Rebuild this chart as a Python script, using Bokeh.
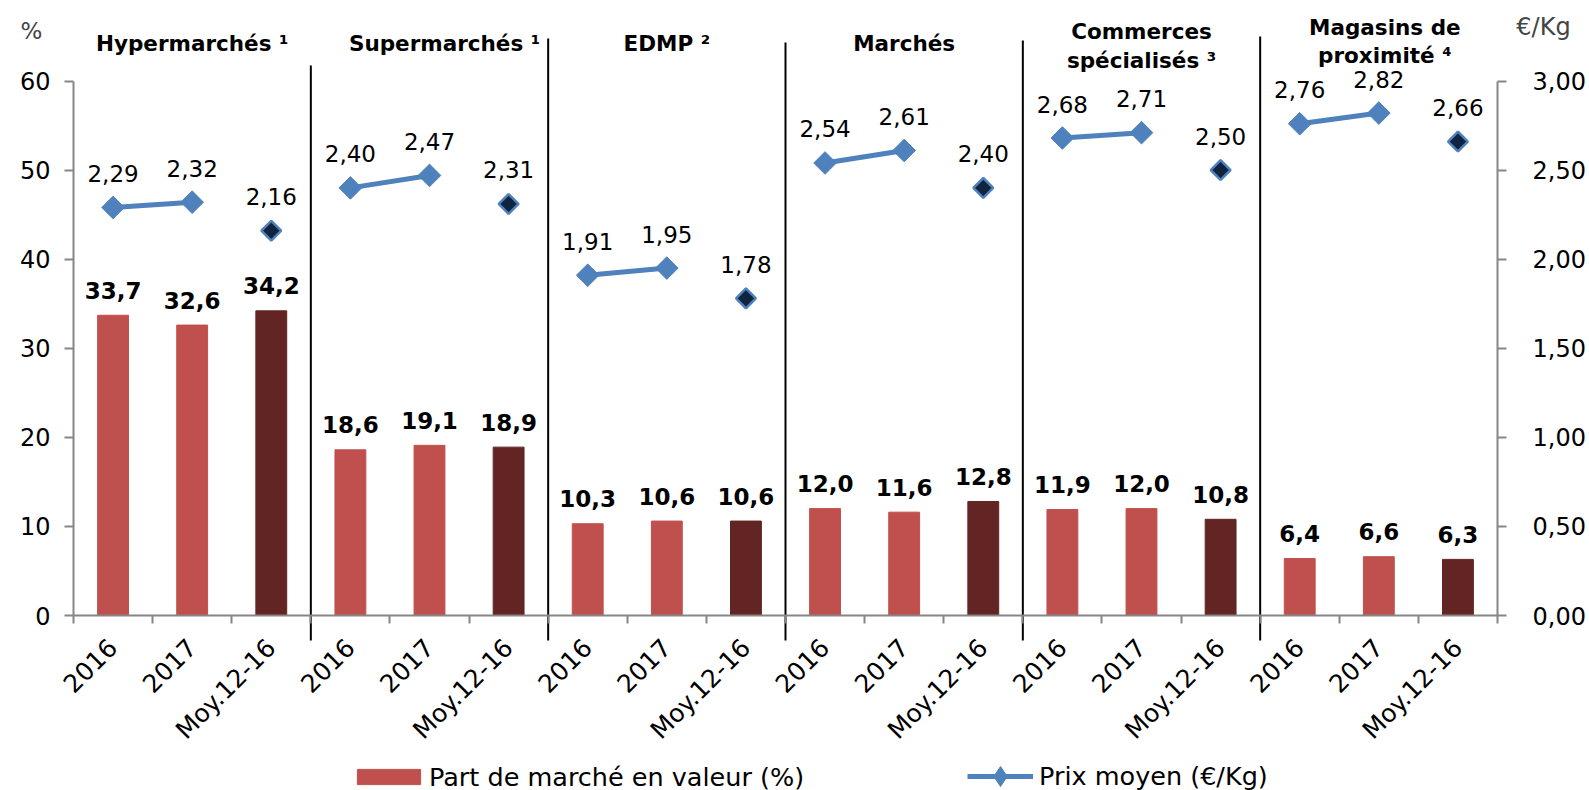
import math
from bokeh.plotting import figure
from bokeh.models import (Range1d, LinearAxis, FixedTicker, CustomJSTickFormatter,
                          ColumnDataSource, Legend, LegendItem, Label)
from bokeh.core.properties import value
from bokeh.embed import file_html
from bokeh.resources import INLINE

# ---------------- data ----------------
groups = ["Hypermarchés ¹", "Supermarchés ¹", "EDMP ²", "Marchés",
          "Commerces\nspécialisés ³", "Magasins de\nproximité ⁴"]
periods = ["2016", "2017", "Moy.12-16"]
part_marche = [33.7, 32.6, 34.2,
               18.6, 19.1, 18.9,
               10.3, 10.6, 10.6,
               12.0, 11.6, 12.8,
               11.9, 12.0, 10.8,
               6.4, 6.6, 6.3]
prix_moyen = [2.29, 2.32, 2.16,
              2.40, 2.47, 2.31,
              1.91, 1.95, 1.78,
              2.54, 2.61, 2.40,
              2.68, 2.71, 2.50,
              2.76, 2.82, 2.66]
legend_bar = "Part de marché en valeur (%)"
legend_line = "Prix moyen (€/Kg)"
unit_left = "%"
unit_right = "€/Kg"

# ---------------- layout (page pixels) ----------------
W, H = 1589, 790
PAGE = 0
L, R = 73, 1497          # axes positions (page px)
Y0, Y60 = 615, 80.5      # pixel of 0 and 60 on left axis
NCAT = len(groups) * len(periods)
XPC = (R - L) / NCAT
YPU = (Y0 - Y60) / 60.0

def xd(px):
    return (px - L) / XPC

def yd(px):
    return (Y0 - px) / YPU

FONT = value("DejaVu Sans")
RED = "#C0504D"
DARK = "#632523"
BLUE = "#4F81BD"
NAVY = "#0F243E"
GREY = "#868686"

# the frame covers the whole canvas; axes are pinned with fixed_location
p = figure(width=W, height=H, output_backend="svg", toolbar_location=None,
           x_range=Range1d(xd(PAGE), xd(PAGE + W)),
           y_range=Range1d(yd(PAGE + H), yd(PAGE)),
           min_border=0, min_border_left=0, min_border_right=0,
           min_border_top=0, min_border_bottom=0)
p.title = None
p.outline_line_color = None
p.xgrid.grid_line_color = None
p.ygrid.grid_line_color = None
p.background_fill_color = "white"
p.border_fill_color = "white"
p.extra_y_ranges = {"price": Range1d(yd(PAGE + H) / 20.0, yd(PAGE) / 20.0)}

# ---------------- derived per-category table ----------------
xs, cols, per_lbl = [], [], []
for gi, g in enumerate(groups):
    for pi_, per in enumerate(periods):
        xs.append(gi * len(periods) + pi_ + 0.5)
        cols.append(DARK if pi_ == 2 else RED)
        per_lbl.append(per)

src = ColumnDataSource(dict(
    x=xs, part=part_marche, prix=prix_moyen, color=cols,
    part_txt=[f"{v:.1f}".replace(".", ",") for v in part_marche],
    prix_txt=[f"{v:.2f}".replace(".", ",") for v in prix_moyen],
))

# group separators (drawn first, behind)
sep_x = [gi * len(periods) for gi in range(1, len(groups))]
sep_top_px = [65, 38, 42, 40, 36]
p.segment(x0=sep_x, x1=sep_x, y0=[yd(640)] * len(sep_x), y1=[yd(t) for t in sep_top_px],
          line_color="black", line_width=2)

# bars
bars = p.vbar(x="x", top="part", bottom=0, width=0.39, source=src,
              fill_color="color", line_color="color")

# bar value labels
p.text(x="x", y="part", text="part_txt", source=src, y_offset=-25,
       text_align="center", text_baseline="middle", text_font=FONT,
       text_font_size="23px", text_font_style="bold", text_color="black")

# price lines (2016 -> 2017 inside each group)
line_xs, line_ys = [], []
for gi in range(len(groups)):
    i0 = gi * len(periods)
    line_xs.append([xs[i0], xs[i0 + 1]])
    line_ys.append([prix_moyen[i0], prix_moyen[i0 + 1]])
lines = p.multi_line(xs=line_xs, ys=line_ys, y_range_name="price",
                     line_color=BLUE, line_width=5)

yr_idx = [i for i in range(NCAT) if i % 3 != 2]
moy_idx = [i for i in range(NCAT) if i % 3 == 2]
src_yr = ColumnDataSource(dict(x=[xs[i] for i in yr_idx], y=[prix_moyen[i] for i in yr_idx]))
src_moy = ColumnDataSource(dict(x=[xs[i] for i in moy_idx], y=[prix_moyen[i] for i in moy_idx]))
# upright diamonds (used by the legend), covered by the rotated squares below
legend_mark = p.scatter(x="x", y="y", source=src_yr, y_range_name="price", marker="diamond",
                        size=20, fill_color=BLUE, line_color=BLUE, line_width=1)
p.scatter(x="x", y="y", source=src_yr, y_range_name="price", marker="square",
          angle=math.pi / 4, size=16, fill_color=BLUE, line_color=BLUE, line_width=1)
p.scatter(x="x", y="y", source=src_moy, y_range_name="price", marker="square",
          angle=math.pi / 4, size=14, fill_color=NAVY, line_color=BLUE, line_width=2.5)

# price labels
p.text(x="x", y="prix", text="prix_txt", source=src, y_range_name="price", y_offset=-34,
       text_align="center", text_baseline="middle", text_font=FONT,
       text_font_size="23px", text_color="black")

# group headers
hdr_dx = [0, 15, 0, 0, 0, 6]
hdr_y = [[43], [43], [43], [43], [31, 60], [27, 55]]
hx, hy, ht = [], [], []
for gi, g in enumerate(groups):
    for li, line in enumerate(g.split("\n")):
        hx.append(gi * len(periods) + 1.5 + hdr_dx[gi] / XPC)
        hy.append(yd(hdr_y[gi][li]))
        ht.append(line)
p.text(x=hx, y=hy, text=ht, text_align="center", text_baseline="middle",
       text_font=FONT, text_font_size="21.5px", text_font_style="bold", text_color="black")

# ---------------- axes ----------------
yax = p.yaxis[0]
yax.ticker = FixedTicker(ticks=[0, 10, 20, 30, 40, 50, 60])
yax.bounds = (0, 60)
yax.fixed_location = 0
ax_right = LinearAxis(y_range_name="price",
                      ticker=FixedTicker(ticks=[0, 0.5, 1.0, 1.5, 2.0, 2.5, 3.0]),
                      formatter=CustomJSTickFormatter(code="return tick.toFixed(2).replace('.', ',')"))
ax_right.bounds = (0, 3)
ax_right.fixed_location = NCAT
p.add_layout(ax_right, "right")

for ax in (yax, ax_right):
    ax.axis_line_color = GREY
    ax.axis_line_width = 2
    ax.major_tick_line_color = GREY
    ax.major_tick_line_width = 2
    ax.major_tick_out = 9
    ax.major_tick_in = 0
    ax.minor_tick_line_color = None
    ax.major_label_text_font = "DejaVu Sans"
    ax.major_label_text_font_size = "24px"
    ax.major_label_text_color = "black"
yax.major_label_standoff = 14
ax_right.major_label_standoff = 26

xax = p.xaxis[0]
xax.ticker = FixedTicker(ticks=xs, minor_ticks=list(range(NCAT + 1)))
xax.formatter = CustomJSTickFormatter(args=dict(labels=per_lbl),
                                      code="return labels[Math.floor(tick)]")
xax.fixed_location = 0
xax.bounds = (0, NCAT)
xax.axis_line_color = GREY
xax.axis_line_width = 2
xax.major_tick_out = 0
xax.major_tick_in = 0
xax.major_tick_line_color = None
xax.minor_tick_out = 8
xax.minor_tick_in = 0
xax.minor_tick_line_color = GREY
xax.minor_tick_line_width = 2
xax.major_label_orientation = math.pi / 4
xax.major_label_standoff = 20
xax.major_label_text_font = "DejaVu Sans"
xax.major_label_text_font_size = "25px"
xax.major_label_text_color = "black"

# unit labels
p.add_layout(Label(x=xd(31), y=yd(30.5), text=unit_left, text_align="center",
                   text_baseline="middle", text_font="DejaVu Sans", text_font_size="23px"))
p.add_layout(Label(x=xd(1543), y=yd(26), text=unit_right, text_align="center",
                   text_baseline="middle", text_font="DejaVu Sans", text_font_size="24px"))

# ---------------- legends ----------------
def mk_legend(items, vx, vy, gw, gh, lh, standoff):
    lg = Legend(items=items, location=(vx, vy), orientation="horizontal",
                glyph_width=gw, glyph_height=gh, label_height=lh, label_standoff=standoff,
                padding=0, margin=0, spacing=0,
                background_fill_alpha=0, border_line_alpha=0,
                label_text_font="DejaVu Sans", label_text_font_size="25.5px",
                label_text_color="black")
    p.add_layout(lg, "center")

mk_legend([LegendItem(label=legend_bar, renderers=[bars], index=0)],
          349 - PAGE, -1.5, 79, 19, 19, 1)
mk_legend([LegendItem(label=legend_line, renderers=[lines, legend_mark])],
          967 - PAGE, -11, 66, 50, 50, 6)

open("out.html", "w").write(file_html(p, INLINE))
